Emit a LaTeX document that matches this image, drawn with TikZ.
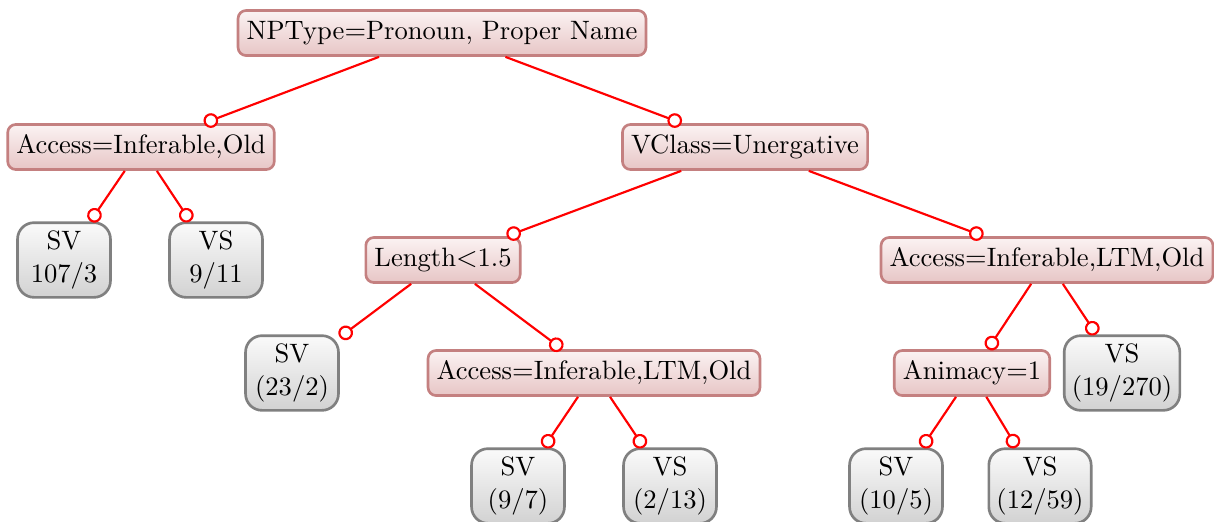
\documentclass[tikz,border=0pt]{standalone}
\usetikzlibrary{arrows.meta,shadings}
\definecolor{splitborder}{RGB}{196,128,128}
\definecolor{splittop}{RGB}{251,242,242}
\definecolor{splitbottom}{RGB}{231,198,198}
\definecolor{leafborder}{RGB}{128,128,128}
\definecolor{leaftop}{RGB}{250,250,250}
\definecolor{leafbottom}{RGB}{210,210,210}
\definecolor{edgered}{RGB}{255,0,0}
\tikzset{
  split/.style={draw=splitborder, line width=1.05pt, rounded corners=3.2pt,
    top color=splittop, bottom color=splitbottom,
    minimum height=17.8pt, inner xsep=3.4pt, font=\fontsize{10.5}{12.5}\selectfont},
  leaf/.style={draw=leafborder, line width=1.05pt, rounded corners=6.5pt,
    top color=leaftop, bottom color=leafbottom, align=center,
    minimum height=28.8pt, minimum width=36.7pt, inner xsep=3pt,
    font=\fontsize{10.5}{12.8}\selectfont},
  branch/.style={draw=edgered, line width=0.85pt,
    -{Circle[open,length=5.8pt,width=5.8pt,fill=white,line width=0.85pt]}},
}
\begin{document}
\begin{tikzpicture}[x=0.395pt, y=-0.395pt]
\useasboundingbox (0,0) rectangle (1214,521);
% decision nodes
\node[split] (root) at (442,33) {NPType$=$Pronoun, Proper Name};
\node[split] (acc1) at (141,147) {Access$=$Inferable,Old};
\node[split] (vcl)  at (745,147) {VClass$=$Unergative};
\node[split] (len)  at (443,260) {Length$<$1.5};
\node[split] (acc3) at (1047,260) {Access$=$Inferable,LTM,Old};
\node[split] (acc2) at (594,373) {Access$=$Inferable,LTM,Old};
\node[split] (ani)  at (972,373) {Animacy$=$1};
% leaves
\node[leaf] (l1) at (64,260)  {SV\\107/3};
\node[leaf] (l2) at (216,260) {VS\\9/11};
\node[leaf] (l3) at (292,373) {SV\\(23/2)};
\node[leaf] (l4) at (1122,373) {VS\\(19/270)};
\node[leaf] (l5) at (518,486) {SV\\(9/7)};
\node[leaf] (l6) at (670,486) {VS\\(2/13)};
\node[leaf] (l7) at (896,486) {SV\\(10/5)};
\node[leaf] (l8) at (1040,486) {VS\\(12/59)};
% branches
\draw[branch] (root) -- (acc1);
\draw[branch] (root) -- (vcl);
\draw[branch] (acc1) -- (l1);
\draw[branch] (acc1) -- (l2);
\draw[branch] (vcl) -- (len);
\draw[branch] (vcl) -- (acc3);
\draw[branch] (len) -- (l3);
\draw[branch] (len) -- (acc2);
\draw[branch] (acc2) -- (l5);
\draw[branch] (acc2) -- (l6);
\draw[branch] (acc3) -- (ani);
\draw[branch] (acc3) -- (l4);
\draw[branch] (ani) -- (l7);
\draw[branch] (ani) -- (l8);
\end{tikzpicture}
\end{document}
